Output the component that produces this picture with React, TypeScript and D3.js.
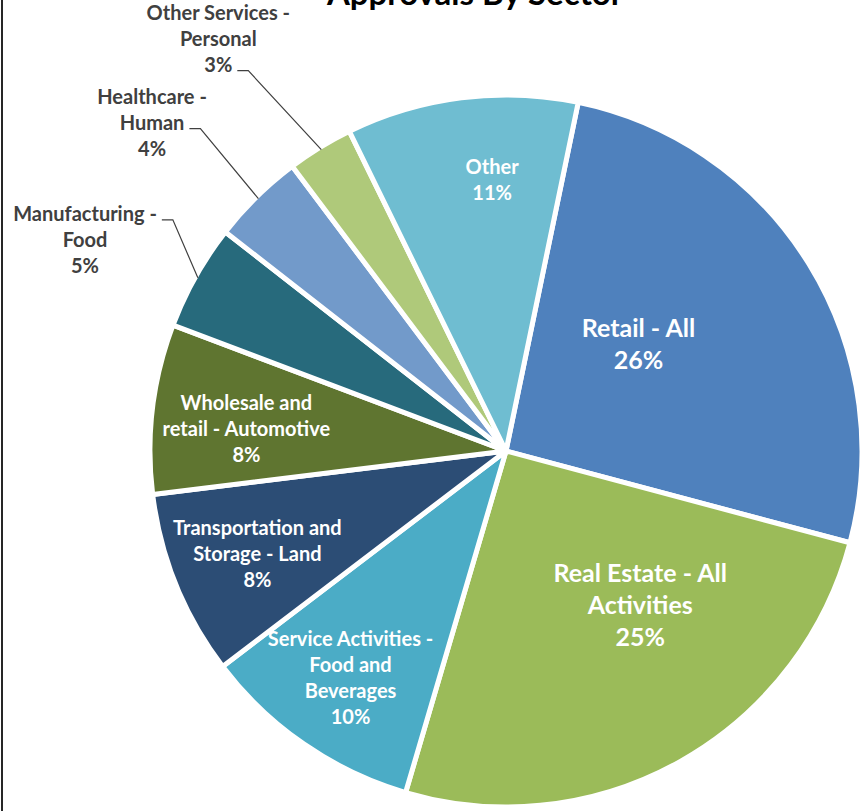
import { useRef, useEffect } from 'react';
import * as d3 from 'd3';

const VW = 864, VH = 811;
const CX = 506, CY = 451, R = 356;
const START_DEG = 11.7; // first slice (Retail) starts just right of 12 o'clock
const FONT = 'Lato, "Open Sans", sans-serif';

// Share of approvals (%), clockwise from Retail.
const SECTORS = [
  'Retail - All',
  'Real Estate - All Activities',
  'Service Activities - Food and Beverages',
  'Transportation and Storage - Land',
  'Wholesale and retail - Automotive',
  'Manufacturing - Food',
  'Healthcare - Human',
  'Other Services - Personal',
  'Other',
];
const SHARES = [25.9, 25.4, 10.1, 8.4, 7.7, 4.8, 4.2, 3.0, 10.5];
const LABEL_LINES = [
  ['Retail - All'],
  ['Real Estate - All', 'Activities'],
  ['Service Activities -', 'Food and', 'Beverages'],
  ['Transportation and', 'Storage - Land'],
  ['Wholesale and', 'retail - Automotive'],
  ['Manufacturing -', 'Food'],
  ['Healthcare -', 'Human'],
  ['Other Services -', 'Personal'],
  ['Other'],
];
const COLORS = ['#4F81BD', '#9BBB59', '#4BACC6', '#2C4D75', '#5F7530', '#276A7C', '#729ACA', '#AFC97A', '#6FBDD1'];

// Label layout (Excel "best fit" look): nudges for inside labels, elbow offsets for outside ones.
const INSIDE_NUDGE: Record<number, [number, number]> = {
  0: [-19, -14], 1: [47, -1], 2: [-2, 4], 3: [2, 1], 4: [9, 10], 8: [20, -3],
};
const OUTSIDE: Record<number, { elbow: [number, number]; attach: number }> = {
  5: { elbow: [-25, -58], attach: 0 },
  6: { elbow: [-58, -70], attach: 1 },
  7: { elbow: [-73, -79], attach: 2 },
};

interface Row { name: string; value: number; lines: string[]; color: string; }

export default function App() {
  const svgRef = useRef<SVGSVGElement>(null);

  useEffect(() => {
    const svg = d3.select(svgRef.current);
    svg.selectAll('*').remove();

    const rows: Row[] = SECTORS.map((name, i) => ({ name, value: SHARES[i], lines: LABEL_LINES[i], color: COLORS[i] }));
    const a0 = (START_DEG * Math.PI) / 180;
    const pie = d3.pie<Row>().value(d => d.value).sort(null).startAngle(a0).endAngle(a0 + 2 * Math.PI);
    const arcs = pie(rows);
    const arc = d3.arc<d3.PieArcDatum<Row>>().innerRadius(0).outerRadius(R);

    // chart border (only the left edge survives the crop)
    svg.append('line').attr('x1', 2).attr('x2', 2).attr('y1', 0).attr('y2', VH)
      .attr('stroke', '#262626').attr('stroke-width', 2);

    // title sits mostly above the visible area, as in the source crop
    svg.append('text').attr('x', 475).attr('y', 5).attr('text-anchor', 'middle')
      .attr('font-family', FONT).attr('font-weight', 700).attr('font-size', 33).attr('fill', '#000')
      .text('Approvals By Sector');

    const g = svg.append('g').attr('transform', `translate(${CX},${CY})`);
    g.selectAll('path.slice').data(arcs).join('path').attr('class', 'slice')
      .attr('d', arc).attr('fill', d => d.data.color)
      .attr('stroke', '#fff').attr('stroke-width', 5).attr('stroke-linejoin', 'round');

    const pct = (v: number) => `${Math.round(v)}%`;

    // inside labels
    arcs.forEach((d, i) => {
      if (OUTSIDE[i]) return;
      const big = d.data.value > 20;
      const fs = big ? 25 : 20;
      const lh = big ? 32 : 26;
      const rr = big ? 0.5 * R : 0.76 * R;
      const [bx, by] = d3.arc<d3.PieArcDatum<Row>>().innerRadius(rr).outerRadius(rr).centroid(d);
      const [nx, ny] = INSIDE_NUDGE[i] ?? [0, 0];
      const lines = [...d.data.lines, pct(d.data.value)];
      const t = g.append('text').attr('text-anchor', 'middle').attr('font-family', FONT)
        .attr('font-weight', 700).attr('font-size', fs).attr('fill', '#fff');
      lines.forEach((s, k) => {
        t.append('tspan').attr('x', bx + nx)
          .attr('y', by + ny + (k - (lines.length - 1) / 2) * lh + fs * 0.36).text(s);
      });
    });

    // outside labels with elbow leader lines
    arcs.forEach((d, i) => {
      const o = OUTSIDE[i];
      if (!o) return;
      const mid = (d.startAngle + d.endAngle) / 2;
      const rim = R - 2.5;
      const ex = rim * Math.sin(mid), ey = -rim * Math.cos(mid);
      const kx = ex + o.elbow[0], ky = ey + o.elbow[1];
      const tx = kx - 11;
      g.append('path').attr('d', `M${ex},${ey}L${kx},${ky}L${tx},${ky}`)
        .attr('fill', 'none').attr('stroke', '#404040').attr('stroke-width', 1.2);

      const fs = 20, lh = 26;
      const lines = [...d.data.lines, pct(d.data.value)];
      const t = g.append('text').attr('text-anchor', 'middle').attr('font-family', FONT)
        .attr('font-weight', 700).attr('font-size', fs).attr('fill', '#404040');
      const spans = lines.map((s, k) => t.append('tspan')
        .attr('y', ky + 1.5 + (k - o.attach) * lh).text(s));
      const w = (spans[o.attach].node() as SVGTSpanElement).getComputedTextLength();
      const cx = tx - 5 - w / 2;
      spans.forEach(sp => sp.attr('x', cx));
    });
  }, []);

  return (
    <svg
      ref={svgRef}
      width={VW}
      height={VH}
      viewBox={`0 0 ${VW} ${VH}`}
      style={{ position: 'absolute', left: 0, top: 0, background: '#fff' }}
      role="img"
      aria-label="Pie chart of approvals by sector"
    />
  );
}
